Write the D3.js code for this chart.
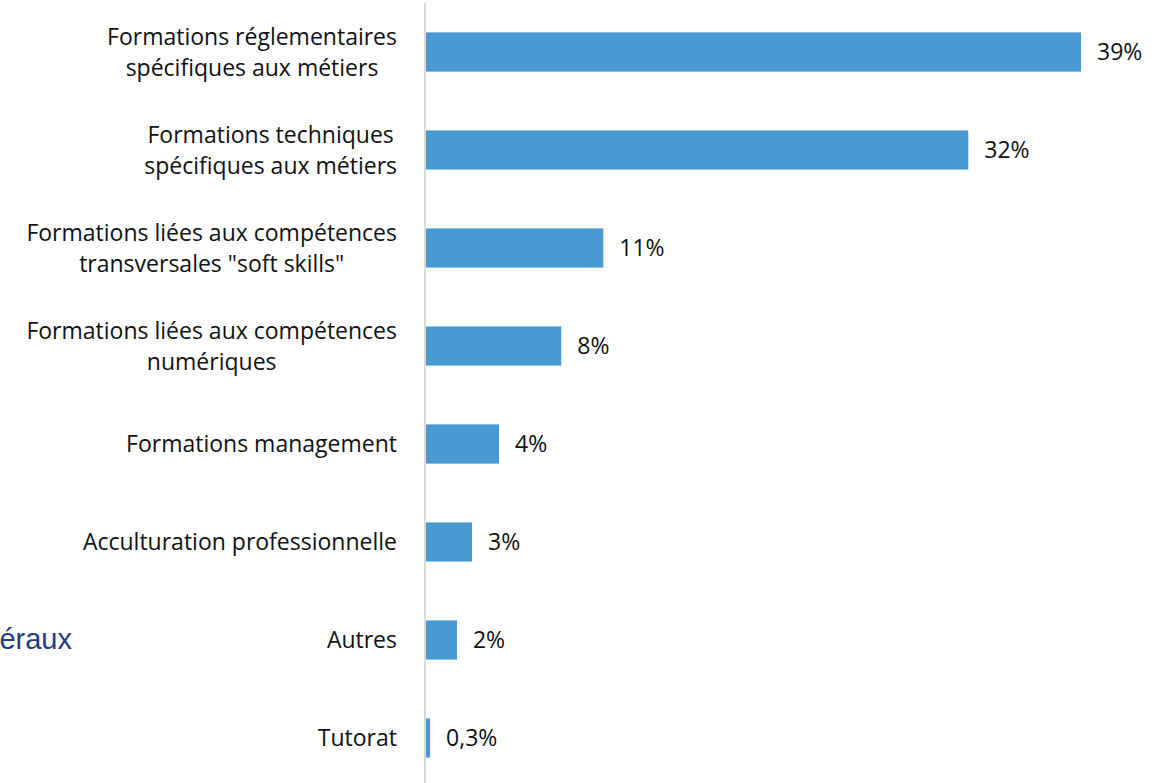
<!DOCTYPE html>
<html><head><meta charset="utf-8">
<script src="https://cdn.jsdelivr.net/npm/d3@7"></script>
<style>body{margin:0;background:#fff;overflow:hidden}svg{display:block}</style>
</head><body>
<svg id="c" width="1167" height="783"></svg>
<script>
const categories = [
  ["Formations réglementaires","spécifiques aux métiers"],
  ["Formations techniques","spécifiques aux métiers"],
  ["Formations liées aux compétences","transversales \"soft skills\""],
  ["Formations liées aux compétences","numériques"],
  ["Formations management"],
  ["Acculturation professionnelle"],
  ["Autres"],
  ["Tutorat"]
];
const values = [39.0, 32.3, 10.6, 8.1, 4.4, 2.8, 1.9, 0.3];
const valueLabels = ["39%","32%","11%","8%","4%","3%","2%","0,3%"];

const svg = d3.select("#c");
const font = "'Open Sans', sans-serif";
const x0 = 425;
const x = d3.scaleLinear().domain([0, 39]).range([x0, 1081]);
const y = d3.scaleBand().domain(d3.range(categories.length)).range([3, 787]).paddingInner(0.6).paddingOuter(0.3);

// fit label font size to reference width of the first label line (~290px)
const probe = svg.append("text").attr("font-family",font).attr("font-size",20).text(categories[0][0]);
const fs = 20*290/probe.node().getComputedTextLength();
probe.remove();

svg.append("text").attr("x", 72).attr("y", 649).attr("text-anchor","end")
  .attr("font-family","Liberation Sans, Arial, sans-serif").attr("font-size",29).attr("fill","#1f3e7c").text("éraux");

svg.append("g").selectAll("rect").data(values).join("rect")
  .attr("x", x0).attr("y",(d,i)=>y(i)).attr("width", d=>x(d)-x0).attr("height", y.bandwidth())
  .attr("fill","#4a9ad1");

svg.append("line").attr("x1",x0).attr("x2",x0).attr("y1",3).attr("y2",783)
  .attr("stroke","#d9d9d9").attr("stroke-width",2);

const lab = svg.append("g").attr("font-family",font).attr("font-size",fs).attr("fill","#111");
categories.forEach((lines,i)=>{
  const cy = y(i)+y.bandwidth()/2;
  const lh = 31;
  const g = lab.append("g");
  const texts = lines.map((t,k)=>g.append("text").attr("y", cy + (k-(lines.length-1)/2)*lh).attr("dy","0.35em").attr("text-anchor","middle").text(t));
  const w = d3.max(texts, t=>t.node().getComputedTextLength());
  texts.forEach(t=>t.attr("x", 397 - w/2));
});

svg.append("g").attr("font-family",font).attr("font-size",fs).attr("fill","#111")
  .selectAll("text").data(values).join("text")
  .attr("x", d=>x(d)+16).attr("y",(d,i)=>y(i)+y.bandwidth()/2).attr("dy","0.35em")
  .text((d,i)=>valueLabels[i]);
</script>
</body></html>
